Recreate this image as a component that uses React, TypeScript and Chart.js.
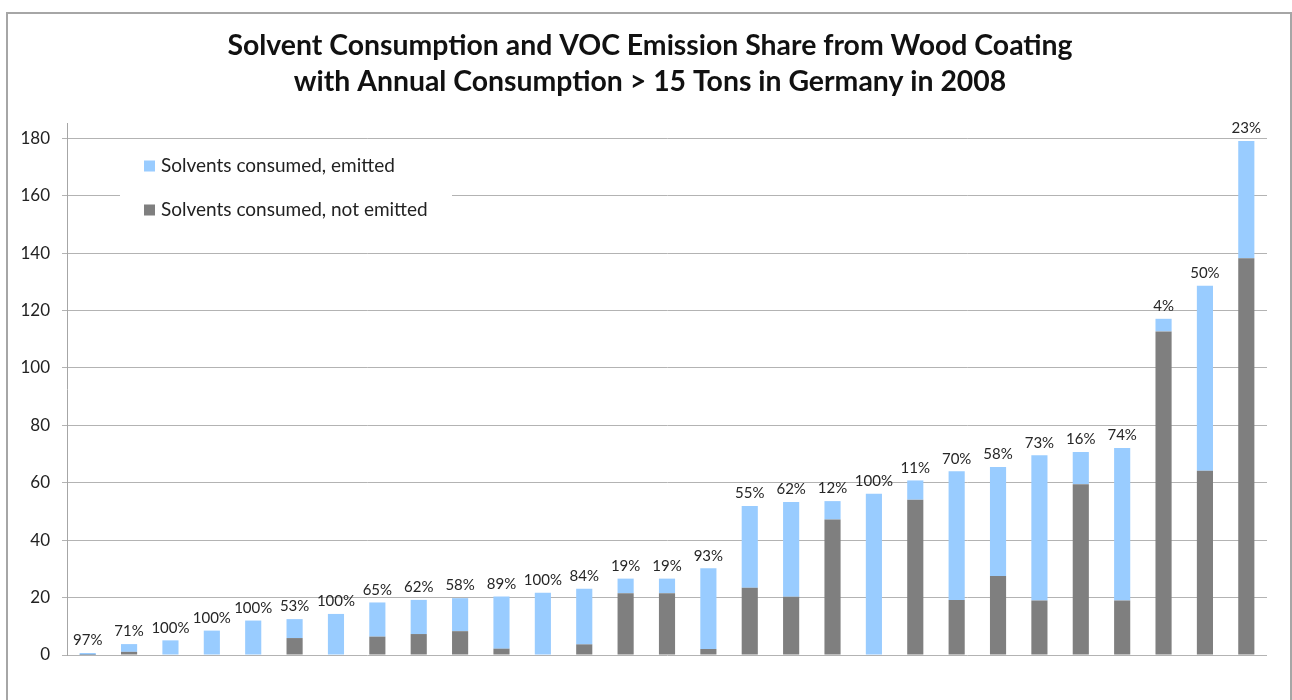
import React, { useEffect, useRef } from "react";
import { Chart, registerables } from "chart.js";

Chart.register(...registerables);

const titleLines = [
  "Solvent Consumption and VOC Emission Share from Wood Coating",
  "with Annual Consumption > 15 Tons in Germany in 2008",
];

const categories = Array.from({ length: 29 }, (_, i) => `Site ${i + 1}`);

const notEmitted = [
  0.02, 1.1, 0, 0, 0, 5.9, 0, 6.4, 7.3, 8.3, 2.2, 0, 3.7, 21.5, 21.5, 2.1,
  23.4, 20.3, 47.2, 0, 54.1, 19.2, 27.5, 19.0, 59.5, 19.0, 112.7, 64.2, 138.2,
];

const emitted = [
  0.68, 2.7, 5.1, 8.5, 12.0, 6.6, 14.3, 11.9, 11.9, 11.5, 18.2, 21.7, 19.4,
  5.1, 5.1, 28.1, 28.5, 33.0, 6.4, 56.2, 6.7, 44.8, 38.0, 50.6, 11.2, 53.1,
  4.4, 64.4, 40.8,
];

const shareLabels = [
  "97%", "71%", "100%", "100%", "100%", "53%", "100%", "65%", "62%", "58%",
  "89%", "100%", "84%", "19%", "19%", "93%", "55%", "62%", "12%", "100%",
  "11%", "70%", "58%", "73%", "16%", "74%", "4%", "50%", "23%",
];

const yTickValues = [0, 20, 40, 60, 80, 100, 120, 140, 160, 180];

const legendLabels = ["Solvents consumed, emitted", "Solvents consumed, not emitted"];

const BLUE = "#99ccff";
const GRAY = "#7f7f7f";

export default function App() {
  const ref = useRef<HTMLCanvasElement | null>(null);

  useEffect(() => {
    if (!ref.current) return;

    const framePlugin = {
      id: "frame",
      beforeDraw(chart: any) {
        const ctx = chart.ctx;
        ctx.save();
        ctx.fillStyle = "#ffffff";
        ctx.fillRect(0, 0, chart.width, chart.height);
        ctx.strokeStyle = "#a6a6a6";
        ctx.lineWidth = 2;
        ctx.strokeRect(7, 13, 1284, 700);
        ctx.fillStyle = "#111111";
        ctx.font = "bold 28.4px Lato";
        ctx.textAlign = "center";
        ctx.textBaseline = "middle";
        ctx.fillText(titleLines[0], 650, 46);
        ctx.fillText(titleLines[1], 650, 82);
        ctx.restore();
      },
    };

    const labelPlugin = {
      id: "shareLabels",
      afterDatasetsDraw(chart: any) {
        const ctx = chart.ctx;
        const meta = chart.getDatasetMeta(1);
        ctx.save();
        ctx.fillStyle = "#262626";
        ctx.font = "15px Lato";
        ctx.textAlign = "center";
        ctx.textBaseline = "bottom";
        meta.data.forEach((el: any, i: number) => {
          ctx.fillText(shareLabels[i], el.x, el.y - 5);
        });
        ctx.restore();
      },
    };

    const legendPlugin = {
      id: "customLegend",
      afterDraw(chart: any) {
        const ctx = chart.ctx;
        ctx.save();
        ctx.fillStyle = "#ffffff";
        ctx.fillRect(120, 150, 332, 80);
        const colors = [BLUE, GRAY];
        const ys = [166, 210];
        ctx.font = "19px Lato";
        ctx.textBaseline = "middle";
        ctx.textAlign = "left";
        legendLabels.forEach((t, i) => {
          ctx.fillStyle = colors[i];
          ctx.fillRect(144, ys[i] - 5.5, 11, 11);
          ctx.fillStyle = "#222222";
          ctx.fillText(t, 161, ys[i]);
        });
        ctx.restore();
      },
    };

    const chart = new Chart(ref.current, {
      type: "bar",
      data: {
        labels: categories,
        datasets: [
          {
            label: legendLabels[1],
            data: notEmitted,
            backgroundColor: GRAY,
            categoryPercentage: 1,
            barPercentage: 0.39,
          },
          {
            label: legendLabels[0],
            data: emitted,
            backgroundColor: BLUE,
            categoryPercentage: 1,
            barPercentage: 0.39,
          },
        ],
      },
      options: {
        responsive: false,
        animation: false,
        devicePixelRatio: 1,
        layout: { padding: { top: 123, left: 0, right: 25, bottom: 45 } },
        plugins: {
          legend: { display: false },
          title: { display: false },
          tooltip: { enabled: false },
        },
        scales: {
          x: {
            stacked: true,
            ticks: { display: false },
            grid: { display: false, drawTicks: false },
            border: { display: false },
            afterFit(scale: any) {
              scale.height = 0;
            },
          },
          y: {
            stacked: true,
            min: 0,
            max: 185.3,
            afterBuildTicks(scale: any) {
              scale.ticks = yTickValues.map((v) => ({ value: v }));
            },
            ticks: {
              color: "#222222",
              font: { family: "Lato", size: 17 },
              padding: 12,
            },
            grid: {
              color: "#b3b3b3",
              lineWidth: 1,
              tickLength: 5,
              drawTicks: true,
            },
            border: { display: true, color: "#a6a6a6", width: 1 },
            afterFit(scale: any) {
              scale.width = 67;
            },
          },
        },
      },
      plugins: [framePlugin, labelPlugin, legendPlugin],
    });

    return () => chart.destroy();
  }, []);

  return (
    <div style={{ position: "absolute", left: 0, top: 0, width: 1292, height: 700 }}>
      <canvas ref={ref} width={1292} height={700} />
    </div>
  );
}
